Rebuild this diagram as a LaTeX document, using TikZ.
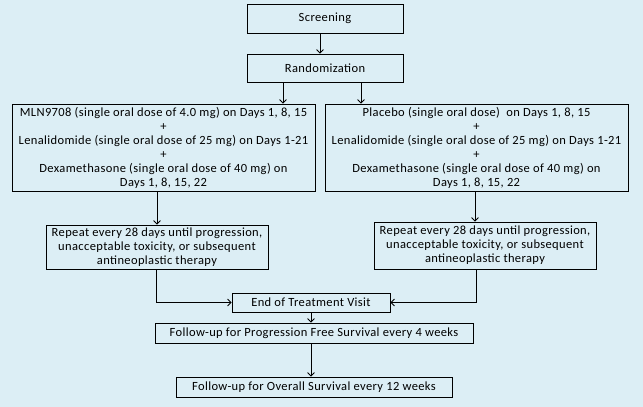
\documentclass[tikz,border=0pt]{standalone}
\usepackage{fontspec}
\setmainfont{Carlito}[LetterSpace=3]
\usetikzlibrary{arrows.meta,calc}
\definecolor{bgblue}{RGB}{220,238,245}
\begin{document}
\begin{tikzpicture}[x=1pt,y=-1pt,
  box/.style={draw=black,line width=0.8pt,inner sep=1pt,align=center,font=\fontsize{12.5}{14}\selectfont},
  arr/.style={line width=0.8pt,-{Straight Barb[length=3.5pt,width=7pt]}},
  ln/.style={line width=0.8pt}]
\fill[bgblue] (0,0) rectangle (643,407);
\useasboundingbox (0,0) rectangle (643,407);
\node[box,minimum width=156pt,minimum height=29pt] (scr) at (325,18.5) {Screening};
\node[box,minimum width=156pt,minimum height=28pt] (rnd) at (325,68) {Randomization};
\node[box,minimum width=303pt,minimum height=87pt] (armA) at (163.5,147.5) {MLN9708 (single oral dose of 4.0 mg) on Days 1, 8, 15\\+\\Lenalidomide (single oral dose of 25 mg) on Days 1-21\\+\\Dexamethasone (single oral dose of 40 mg) on\\Days 1, 8, 15, 22};
\node[box,minimum width=303pt,minimum height=87pt] (armB) at (476.5,147.5) {Placebo (single oral dose)\ \ on Days 1, 8, 15\\+\\Lenalidomide (single oral dose of 25 mg) on Days 1-21\\+\\Dexamethasone (single oral dose of 40 mg) on\\Days 1, 8, 15, 22};
\node[box,minimum width=222pt,minimum height=44pt] (repA) at (157,247) {Repeat every 28 days until progression,\\unacceptable toxicity, or subsequent\\antineoplastic therapy};
\node[box,minimum width=222pt,minimum height=47pt] (repB) at (485,245.5) {Repeat every 28 days until progression,\\unacceptable toxicity, or subsequent\\antineoplastic therapy};
\node[box,minimum width=158pt,minimum height=19pt] (eot) at (311,302.5) {End of Treatment Visit};
\node[box,minimum width=318pt,minimum height=20pt] (pfs) at (314,333) {Follow-up for Progression Free Survival every 4 weeks};
\node[box,minimum width=276pt,minimum height=20pt] (os) at (314,387) {Follow-up for Overall Survival every 12 weeks};
\draw[arr] (scr.south -| 320,0) -- (rnd.north -| 320,0);
\draw[arr] (rnd.south -| 283,0) -- (armA.north -| 283,0);
\draw[arr] (rnd.south -| 361,0) -- (armB.north -| 361,0);
\draw[arr] (armA.south -| 157,0) -- (repA.north -| 157,0);
\draw[arr] (armB.south -| 475,0) -- (repB.north -| 475,0);
\draw[arr] (repA.south -| 156,0) |- (eot.west);
\draw[arr] (repB.south -| 476,0) |- (eot.east);
\draw[arr] (eot.south -| 311,0) -- (pfs.north -| 311,0);
\draw[arr] (pfs.south -| 311,0) -- (os.north -| 311,0);
\end{tikzpicture}
\end{document}
